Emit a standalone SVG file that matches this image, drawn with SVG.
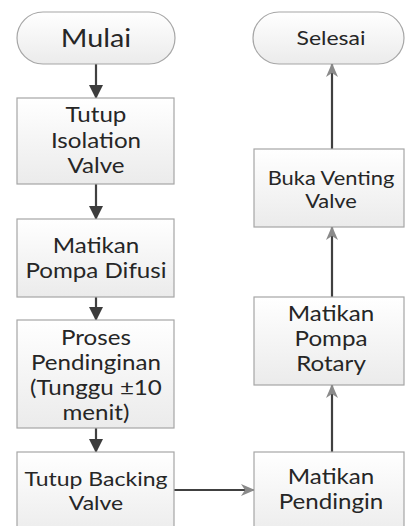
<svg xmlns="http://www.w3.org/2000/svg" width="406" height="526" viewBox="0 0 406 526">
<defs>
<linearGradient id="g" x1="0" y1="0" x2="0" y2="1">
<stop offset="0" stop-color="#ffffff"/>
<stop offset="1" stop-color="#ebebeb"/>
</linearGradient>
<marker id="down" viewBox="0 0 14 14" refX="13" refY="7" markerWidth="14" markerHeight="14" markerUnits="userSpaceOnUse" orient="auto">
<path d="M0,0 L14,7 L0,14 Z" fill="#3c3c3c"/>
</marker>
<marker id="up" viewBox="0 0 14 12" refX="13" refY="6" markerWidth="14" markerHeight="12" markerUnits="userSpaceOnUse" orient="auto">
<path d="M0,0 L14,6 L0,12 L4,6 Z" fill="#8a8a8a"/>
</marker>
</defs>
<style>
.box{fill:url(#g);stroke:#a6a6a6;stroke-width:1.2}
.t{font-family:Lato,"Open Sans",sans-serif;fill:#262626;text-anchor:middle}
.c{stroke:#404040;stroke-width:2.2;fill:none}
.L{transform:matrix(1.15,0,0,1,-14.4,0)}
.R{transform:matrix(1.15,0,0,1,-49.65,0)}
</style>
<rect width="406" height="526" fill="#ffffff"/>
<g id="connectors">
<line class="c" x1="96" y1="64" x2="96" y2="98" marker-end="url(#down)"/>
<line class="c" x1="96" y1="184" x2="96" y2="219" marker-end="url(#down)"/>
<line class="c" x1="96" y1="297" x2="96" y2="320" marker-end="url(#down)"/>
<line class="c" x1="96" y1="428" x2="96" y2="452" marker-end="url(#down)"/>
<line class="c" x1="174" y1="490" x2="254" y2="490" marker-end="url(#up)"/>
<line class="c" x1="332" y1="452" x2="332" y2="385" marker-end="url(#up)"/>
<line class="c" x1="332" y1="297" x2="332" y2="227" marker-end="url(#up)"/>
<line class="c" x1="332" y1="149" x2="332" y2="64" marker-end="url(#up)"/>
</g>
<g id="mulai">
<rect class="box" x="17" y="12" width="158" height="52" rx="26"/>
<g class="L"><text class="t" x="96" y="47" font-size="25">Mulai</text></g>
</g>
<g id="tutup-isolation">
<rect class="box" x="17" y="98" width="157" height="86"/>
<g class="L">
<text class="t" x="96" y="122" font-size="21">Tutup</text>
<text class="t" x="96" y="148" font-size="21">Isolation</text>
<text class="t" x="96" y="173" font-size="21">Valve</text>
</g>
</g>
<g id="matikan-difusi">
<rect class="box" x="17" y="219" width="157" height="78"/>
<g class="L">
<text class="t" x="96" y="253" font-size="21">Matikan</text>
<text class="t" x="96" y="278" font-size="21">Pompa Difusi</text>
</g>
</g>
<g id="proses-pendinginan">
<rect class="box" x="17" y="320" width="157" height="108"/>
<g class="L">
<text class="t" x="96" y="345" font-size="21">Proses</text>
<text class="t" x="96" y="370" font-size="21">Pendinginan</text>
<text class="t" x="96" y="395" font-size="21">(Tunggu ±10</text>
<text class="t" x="96" y="420" font-size="21">menit)</text>
</g>
</g>
<g id="tutup-backing">
<rect class="box" x="17" y="452" width="157" height="86"/>
<g class="L">
<text class="t" x="96" y="486" font-size="20">Tutup Backing</text>
<text class="t" x="96" y="510" font-size="20">Valve</text>
</g>
</g>
<g id="selesai">
<rect class="box" x="253" y="12" width="151" height="52" rx="26"/>
<g class="R"><text class="t" x="331" y="45" font-size="20">Selesai</text></g>
</g>
<g id="buka-venting">
<rect class="box" x="254" y="149" width="150" height="78"/>
<g class="R">
<text class="t" x="331" y="185" font-size="19">Buka Venting</text>
<text class="t" x="331" y="208" font-size="19">Valve</text>
</g>
</g>
<g id="matikan-rotary">
<rect class="box" x="254" y="297" width="150" height="88"/>
<g class="R">
<text class="t" x="331" y="321" font-size="21">Matikan</text>
<text class="t" x="331" y="346" font-size="21">Pompa</text>
<text class="t" x="331" y="371" font-size="21">Rotary</text>
</g>
</g>
<g id="matikan-pendingin">
<rect class="box" x="254" y="452" width="150" height="86"/>
<g class="R">
<text class="t" x="331" y="484" font-size="21">Matikan</text>
<text class="t" x="331" y="509" font-size="21">Pendingin</text>
</g>
</g>
</svg>
